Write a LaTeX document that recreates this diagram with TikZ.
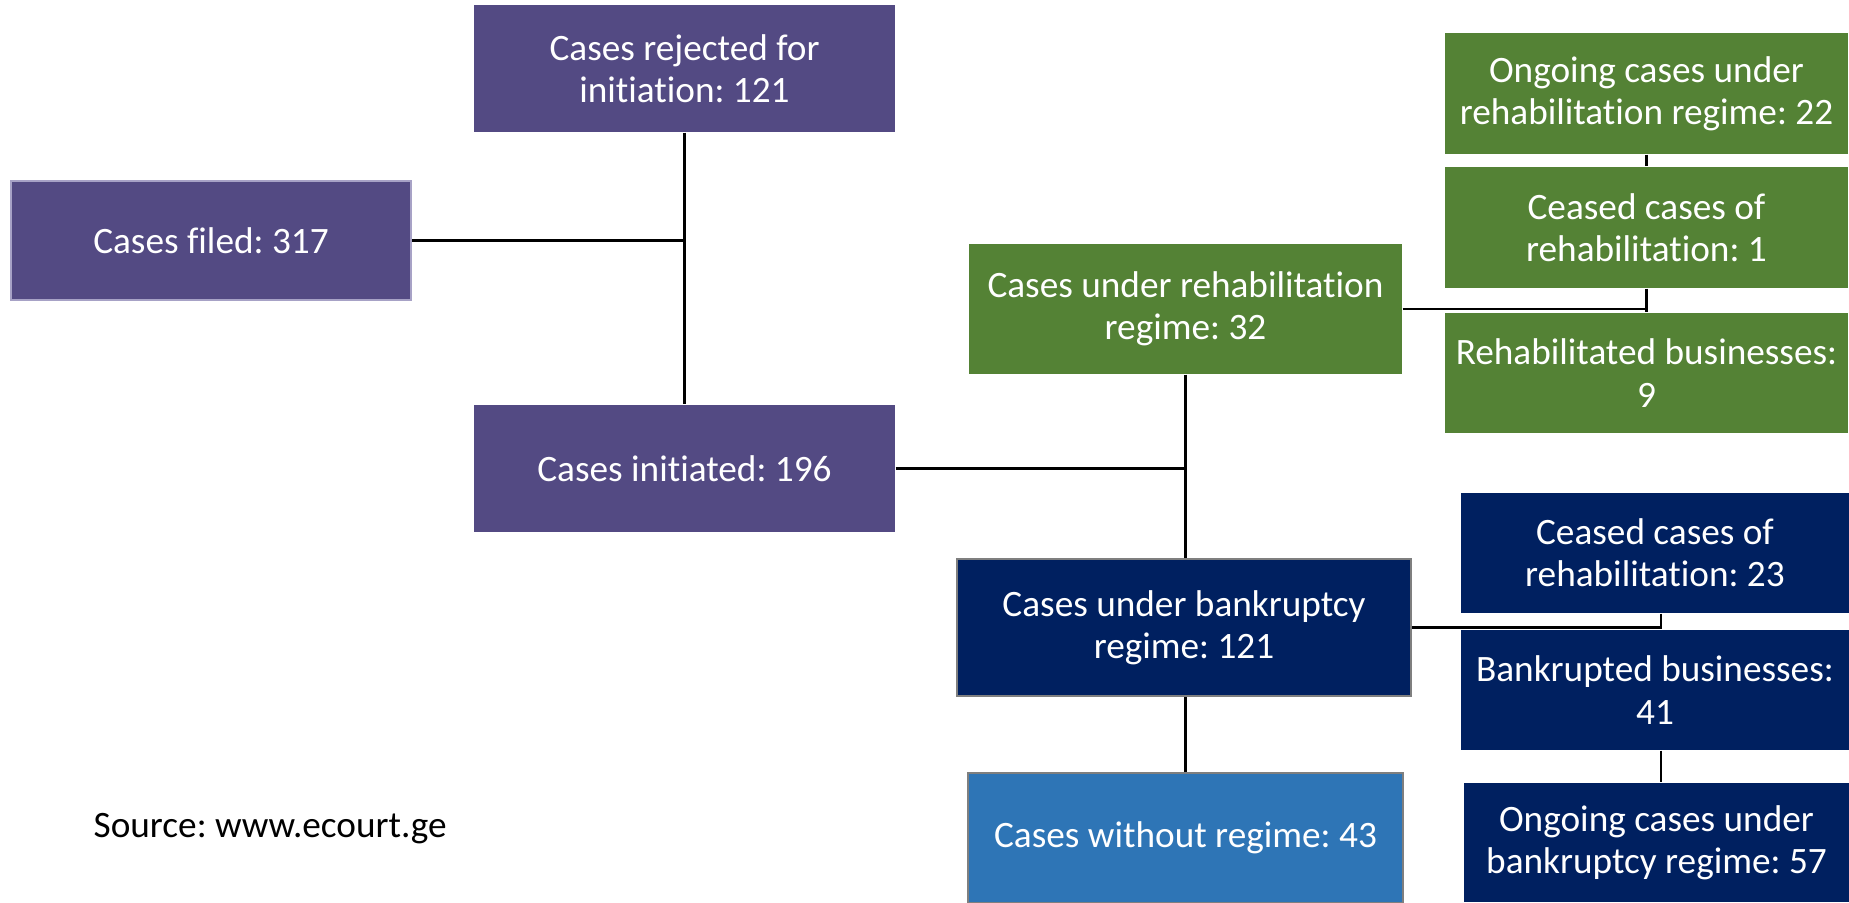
\documentclass[tikz,border=0pt]{standalone}
\usepackage{fontspec}
\setmainfont{Carlito}[Ligatures=NoCommon]
\usepackage{tikz}
\usetikzlibrary{positioning,calc}
\definecolor{casepurple}{HTML}{534A83}
\definecolor{casegreen}{HTML}{548235}
\definecolor{casenavy}{HTML}{002060}
\definecolor{caseblue}{HTML}{2E75B6}
\definecolor{caseedge}{HTML}{7F7F7F}
\definecolor{caselilac}{HTML}{A7A2C6}
\tikzset{%
  link/.style   = { draw = black, line width = 0.6pt },
  cbox/.style   = { fill = #1, text = white, align = center, inner sep = 0pt,
    font = \fontsize{10.6pt}{12pt}\selectfont },
  edged/.style  = { draw = #1, line width = 0.8pt },
}
\newcommand{\colorp}{casepurple}
\newcommand{\colorg}{casegreen}
\newcommand{\colorn}{casenavy}
\newcommand{\colorb}{caseblue}
\frenchspacing
\begin{document}
\begin{tikzpicture}
    \useasboundingbox (0,0) rectangle (18.49,-9.02);
    % nodes ----------------------------------------------------------------------------------------
    % left column (purple)
    \node(filed)    [cbox=\colorp, edged=caselilac, minimum width=4.00cm, minimum height=1.19cm] at (2.11,-2.405)  {Cases filed: 317};
    \node(rejected) [cbox=\colorp, minimum width=4.21cm, minimum height=1.27cm] at (6.845,-0.685) {Cases rejected for\\initiation: 121};
    \node(initiated)[cbox=\colorp, minimum width=4.21cm, minimum height=1.27cm] at (6.845,-4.685) {Cases initiated: 196};
    % regimes
    \node(rehab)    [cbox=\colorg, minimum width=4.33cm, minimum height=1.30cm] at (11.855,-3.09) {Cases under rehabilitation\\regime: 32};
    \node(bankrupt) [cbox=\colorn, edged=caseedge, minimum width=4.54cm, minimum height=1.37cm] at (11.84,-6.275) {Cases under bankruptcy\\regime: 121};
    \node(without)  [cbox=\colorb, edged=caseedge, minimum width=4.35cm, minimum height=1.30cm] at (11.855,-8.38) {Cases without regime: 43};
    % rehabilitation outcomes
    \node(ongoingr) [cbox=\colorg, minimum width=4.03cm, minimum height=1.21cm] at (16.465,-0.935) {Ongoing cases under\\rehabilitation regime: 22};
    \node(ceasedr)  [cbox=\colorg, minimum width=4.03cm, minimum height=1.21cm] at (16.465,-2.275) {Ceased cases of\\rehabilitation: 1};
    \node(rehabd)   [cbox=\colorg, minimum width=4.03cm, minimum height=1.20cm] at (16.465,-3.73)  {Rehabilitated businesses:\\9};
    % bankruptcy outcomes
    \node(ceasedb)  [cbox=\colorn, minimum width=3.88cm, minimum height=1.20cm] at (16.55,-5.53)  {Ceased cases of\\rehabilitation: 23};
    \node(bankrd)   [cbox=\colorn, minimum width=3.88cm, minimum height=1.20cm] at (16.55,-6.90)  {Bankrupted businesses:\\41};
    \node(ongoingb) [cbox=\colorn, minimum width=3.86cm, minimum height=1.19cm] at (16.565,-8.425) {Ongoing cases under\\bankruptcy regime: 57};
    % source note
    \node(source) [anchor=west, inner sep=0pt, font=\fontsize{10.6pt}{12pt}\selectfont] at (0.93,-8.29) {Source: www.ecourt.ge};
    \coordinate (bj) at (16.61,-6.275);
    % links ----------------------------------------------------------------------------------------
    \draw[link] (filed.east) -- (filed.east -| rejected.south);
    \draw[link] (rejected.south) -- (initiated.north);
    \draw[link] (initiated.east) -- (initiated.east -| rehab.south);
    \draw[link] (rehab.south) -- (rehab.south |- bankrupt.north);
    \draw[link] (bankrupt.south -| rehab.south) -- (without.north);
    % rehabilitation branch
    \draw[link] (rehab.east) -- (rehab.east -| ongoingr.south);
    \draw[link] (ongoingr.south) -- (ceasedr.north);
    \draw[link] (ceasedr.south) -- (rehabd.north);
    % bankruptcy branch
    \draw[link] (bankrupt.east) -- (bj);
    \draw[link] (bj |- ceasedb.south) -- (bj |- bankrd.north);
    \draw[link] (bj |- bankrd.south) -- (bj |- ongoingb.north);
\end{tikzpicture}
\end{document}
